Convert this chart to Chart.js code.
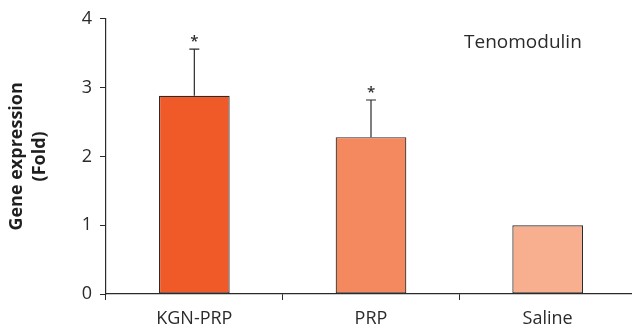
<!DOCTYPE html>
<html>
<head>
<meta charset="utf-8">
<script src="https://cdn.jsdelivr.net/npm/chart.js@4"></script>
<style>
  html, body { margin: 0; padding: 0; background: #fff; overflow: hidden; }
  #wrap { width: 636px; height: 330px; }
</style>
</head>
<body>
<div id="wrap"><canvas id="geneChart"></canvas></div>
<script>
// data
const groups = ['KGN-PRP', 'PRP', 'Saline'];
const foldValues = [2.88, 2.28, 1.0];
const upperErrors = [0.68, 0.54, 0];
const significance = ['*', '*', ''];
const yTicks = [0, 1, 2, 3, 4];
const barColors = ['#f05a28', '#f4895f', '#f7af8f'];

const FONT = "'Open Sans', 'Noto Sans', sans-serif";
const INK = '#2b2b2b';

// upward error bars with caps + asterisks
const errorBars = {
    id: 'errorBars',
    afterDatasetsDraw(chart) {
        const ctx = chart.ctx;
        const y = chart.scales.y;
        const bars = chart.getDatasetMeta(0).data;
        ctx.save();
        ctx.strokeStyle = INK;
        ctx.lineWidth = 1.2;
        bars.forEach((bar, i) => {
            if (!upperErrors[i]) return;
            const top = y.getPixelForValue(foldValues[i] + upperErrors[i]);
            const base = y.getPixelForValue(foldValues[i]);
            ctx.beginPath();
            ctx.moveTo(bar.x, base);
            ctx.lineTo(bar.x, top);
            ctx.moveTo(bar.x - 5, top);
            ctx.lineTo(bar.x + 5, top);
            ctx.stroke();
            if (significance[i]) {
                ctx.fillStyle = INK;
                ctx.font = '600 15px ' + FONT;
                ctx.textAlign = 'center';
                ctx.textBaseline = 'middle';
                ctx.fillText(significance[i], bar.x, top - 7);
            }
        });
        ctx.restore();
    }
};

// gene name in the top right corner
const geneLabel = {
    id: 'geneLabel',
    afterDraw(chart) {
        const ctx = chart.ctx;
        const x = chart.scales.x;
        const y = chart.scales.y;
        ctx.save();
        ctx.fillStyle = INK;
        ctx.font = '19px ' + FONT;
        ctx.textAlign = 'center';
        ctx.textBaseline = 'middle';
        ctx.fillText('Tenomodulin', x.getPixelForValue(1.86), y.getPixelForValue(3.66));
        ctx.restore();
    }
};

new Chart(document.getElementById('geneChart'), {
    type: 'bar',
    data: {
        labels: groups,
        datasets: [{
            data: foldValues,
            backgroundColor: barColors,
            borderColor: INK,
            borderWidth: 1.2,
            borderSkipped: false,
            categoryPercentage: 1,
            barPercentage: 0.4
        }]
    },
    options: {
        responsive: true,
        maintainAspectRatio: false,
        animation: false,
        layout: { padding: { top: 17, right: 0, left: 0, bottom: 0 } },
        plugins: {
            legend: { display: false },
            tooltip: { enabled: false }
        },
        scales: {
            x: {
                offset: true,
                grid: { drawOnChartArea: false, drawTicks: true, tickLength: 6, color: INK, offset: true },
                border: { color: INK, width: 1.2 },
                ticks: { color: INK, font: { family: FONT, size: 18 }, padding: 8 },
                afterFit(scale) { scale.height = 36; }
            },
            y: {
                min: 0,
                max: 4,
                afterBuildTicks(scale) { scale.ticks = yTicks.map(v => ({ value: v })); },
                grid: { drawOnChartArea: false, drawTicks: true, tickLength: 6, color: INK },
                border: { color: INK, width: 1.2 },
                ticks: { color: INK, font: { family: FONT, size: 18 }, padding: 8 },
                title: {
                    display: true,
                    text: ['Gene expression', '(Fold)'],
                    color: '#1f1f1f',
                    font: { family: FONT, size: 18, weight: 'bold', lineHeight: 1.25 },
                    padding: { top: 6, bottom: 4 }
                },
                afterFit(scale) { scale.width = 106; }
            }
        }
    },
    plugins: [errorBars, geneLabel]
});
</script>
</body>
</html>
